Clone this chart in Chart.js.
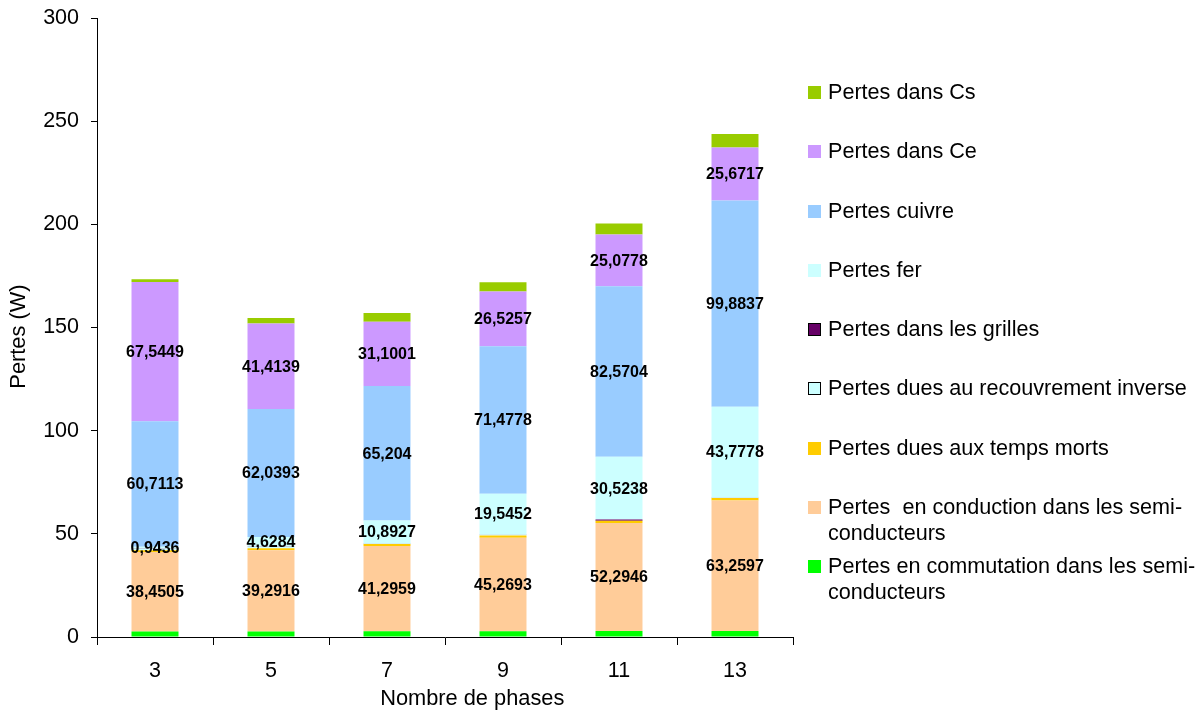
<!DOCTYPE html>
<html>
<head>
<meta charset="utf-8">
<script src="https://cdn.jsdelivr.net/npm/chart.js@4.4.1/dist/chart.umd.min.js"></script>
<style>
  body { margin: 0; background: #fff; }
  #wrap { position: relative; width: 1201px; height: 714px; }
  #legend { position: absolute; left: 808px; top: 79px; font-family: "Liberation Sans", Arial, sans-serif; font-size: 21.6px; color: #000; }
  .item { position: relative; height: 59.3px; }
  .box { position: absolute; left: 0; top: 7px; width: 13px; height: 13px; box-sizing: border-box; }
  .txt { position: absolute; left: 20px; top: 0; line-height: 26px; white-space: pre; }
</style>
</head>
<body>
<div id="wrap">
  <canvas id="myChart"></canvas>
  <div id="legend"></div>
</div>
<script>
const ctx = document.getElementById('myChart').getContext('2d');

// nombre de phases
var phases = ['3', '5', '7', '9', '11', '13'];

// pertes (W), du bas vers le haut de la pile
var commutation  = [2.7, 2.7, 2.8, 2.8, 2.9, 2.9];
var conduction   = [38.4505, 39.2916, 41.2959, 45.2693, 52.2946, 63.2597];
var tempsMorts   = [0.9, 1.0, 1.0, 1.1, 1.1, 1.2];
var recouvrement = [0.7, 0.8, 0.4, 0.6, 0.1, 0.4];
var grilles      = [0.1, 0.1, 0.1, 0.1, 0.5, 0.1];
var fer          = [0.9436, 4.6284, 10.8927, 19.5452, 30.5238, 43.7778];
var cuivre       = [60.7113, 62.0393, 65.204, 71.4778, 82.5704, 99.8837];
var pertesCe     = [67.5449, 41.4139, 31.1001, 26.5257, 25.0778, 25.6717];
var pertesCs     = [1.3, 2.6, 4.2, 4.5, 5.3, 6.6];

var yMin = 0, yMax = 300, yStep = 50;

Chart.defaults.font.family = '"Liberation Sans", Arial, sans-serif';
Chart.defaults.color = '#000';

// valeurs ecrites au milieu des segments
const valueLabels = {
    id: 'valueLabels',
    afterDatasetsDraw(chart) {
        const c = chart.ctx;
        c.save();
        c.font = 'bold 16px "Liberation Sans", Arial, sans-serif';
        c.fillStyle = '#000';
        c.textAlign = 'center';
        c.textBaseline = 'middle';
        chart.data.datasets.forEach(function (ds, i) {
            if (!ds.showValues) return;
            chart.getDatasetMeta(i).data.forEach(function (bar, j) {
                const p = bar.getCenterPoint();
                c.fillText(String(ds.data[j]).replace('.', ','), p.x, p.y + 1);
            });
        });
        c.restore();
    }
};

const myChart = new Chart(ctx, {
    type: 'bar',
    data: {
        labels: phases,
        datasets: [
            { label: 'Pertes en commutation dans les semi-\nconducteurs', data: commutation, backgroundColor: '#00ff00' },
            { label: 'Pertes  en conduction dans les semi-\nconducteurs', data: conduction, backgroundColor: '#ffcc99', showValues: true },
            { label: 'Pertes dues aux temps morts', data: tempsMorts, backgroundColor: '#ffcc00' },
            { label: 'Pertes dues au recouvrement inverse', data: recouvrement, backgroundColor: '#ccffff', legendBorder: '#000' },
            { label: 'Pertes dans les grilles', data: grilles, backgroundColor: '#660066', legendBorder: '#000' },
            { label: 'Pertes fer', data: fer, backgroundColor: '#ccffff', showValues: true },
            { label: 'Pertes cuivre', data: cuivre, backgroundColor: '#99ccff', showValues: true },
            { label: 'Pertes dans Ce', data: pertesCe, backgroundColor: '#cc99ff', showValues: true },
            { label: 'Pertes dans Cs', data: pertesCs, backgroundColor: '#99cc00' }
        ]
    },
    options: {
        responsive: true,
        maintainAspectRatio: false,
        animation: false,
        layout: { padding: { top: 18, right: 408, left: 0, bottom: 0 } },
        datasets: { bar: { barPercentage: 0.405, categoryPercentage: 1, borderWidth: 0 } },
        plugins: { legend: { display: false }, tooltip: { enabled: false } },
        scales: {
            x: {
                stacked: true,
                ticks: { font: { size: 21.5 }, padding: 13 },
                grid: { drawOnChartArea: false, tickLength: 8, color: '#000' },
                border: { color: '#000' },
                // Excel place le titre un peu a droite du centre
                title: { display: true, text: '\u00a0\u00a0\u00a0\u00a0\u00a0\u00a0\u00a0\u00a0\u00a0Nombre de phases', font: { size: 21.8 }, padding: { top: 4, bottom: 2 } },
                afterFit: function (scale) { scale.height = 77; }
            },
            y: {
                stacked: true,
                min: yMin,
                max: yMax,
                ticks: { stepSize: yStep, font: { size: 21.5 }, padding: 12 },
                grid: { drawOnChartArea: false, tickLength: 6, color: '#000' },
                border: { color: '#000' },
                title: { display: true, text: 'Pertes (W)\u00a0\u00a0\u00a0', font: { size: 21.8 }, padding: { top: 6, bottom: 0 } },
                afterFit: function (scale) {
                    scale.width = 97;
                    scale.paddingTop = 0;
                    scale.paddingBottom = 0;
                }
            }
        }
    },
    plugins: [valueLabels]
});

// legende a droite, du haut de la pile vers le bas
var legendDiv = document.getElementById('legend');
myChart.data.datasets.slice().reverse().forEach(function (ds) {
    var item = document.createElement('div');
    item.className = 'item';
    var box = document.createElement('div');
    box.className = 'box';
    box.style.background = ds.backgroundColor;
    if (ds.legendBorder) box.style.border = '1px solid ' + ds.legendBorder;
    var txt = document.createElement('div');
    txt.className = 'txt';
    txt.textContent = ds.label;
    item.appendChild(box);
    item.appendChild(txt);
    legendDiv.appendChild(item);
});
</script>
</body>
</html>
